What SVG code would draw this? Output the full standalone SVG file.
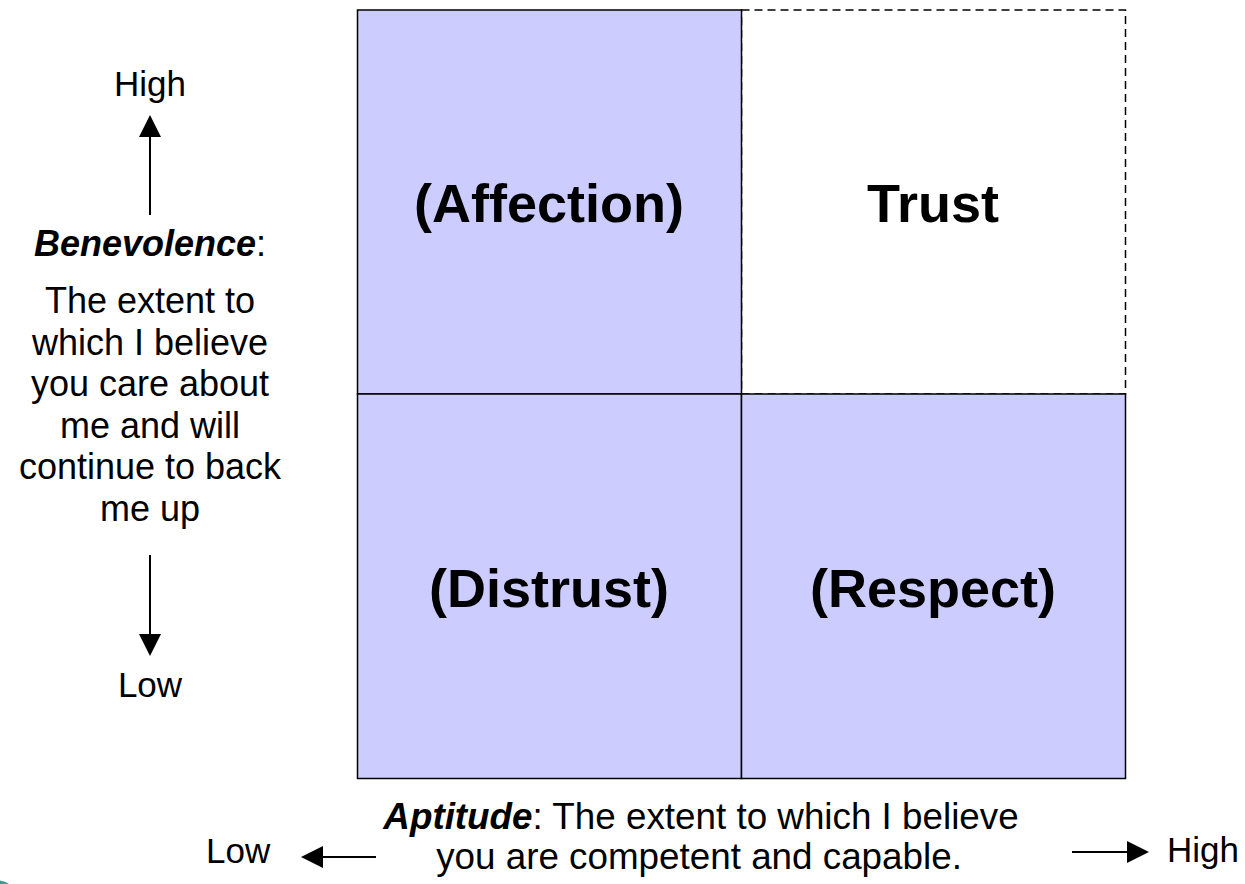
<svg xmlns="http://www.w3.org/2000/svg" width="1245" height="884" viewBox="0 0 1245 884">
  <defs>
    <style>
      .quad { fill: #CCCCFF; stroke: #000; stroke-width: 1.5; }
      .quad-open { fill: #FFFFFF; stroke: #000; stroke-width: 1.5; stroke-dasharray: 8 5; }
      .label { font-family: "Liberation Sans", Arial, sans-serif; font-weight: bold; font-size: 54px; fill: #000; text-anchor: middle; }
      .txt { font-family: "Liberation Sans", Arial, sans-serif; font-size: 36px; fill: #000; text-anchor: middle; }
      .txt-wide { font-size: 36.8px; }
      .axis { font-family: "Liberation Sans", Arial, sans-serif; font-size: 35px; fill: #000; }
      .em { font-weight: bold; font-style: italic; }
      .conn { stroke: #000; stroke-width: 2; fill: none; marker-end: url(#head); }
    </style>
    <marker id="head" markerUnits="userSpaceOnUse" markerWidth="22" markerHeight="22" viewBox="0 0 22 22" refX="0" refY="11" orient="auto">
      <path d="M0,0 L22,11 L0,22 Z" fill="#000"/>
    </marker>
  </defs>

  <!-- matrix quadrants -->
  <g id="trust">
    <rect class="quad-open" x="741.5" y="10" width="384" height="384"/>
    <text class="label" x="933" y="222">Trust</text>
  </g>
  <g id="affection">
    <rect class="quad" x="357.5" y="10" width="384" height="384"/>
    <text class="label" x="549" y="222">(Affection)</text>
  </g>
  <g id="distrust">
    <rect class="quad" x="357.5" y="394" width="384" height="384.5"/>
    <text class="label" x="549" y="607">(Distrust)</text>
  </g>
  <g id="respect">
    <rect class="quad" x="741.5" y="394" width="384" height="384.5"/>
    <text class="label" x="933" y="607">(Respect)</text>
  </g>

  <!-- vertical axis: benevolence -->
  <g id="benevolence-high">
    <text class="axis" x="150" y="96" text-anchor="middle">High</text>
  </g>
  <g id="benevolence-desc">
    <text class="txt" x="150" y="256"><tspan class="em">Benevolence</tspan>:</text>
    <text class="txt" x="150" y="313">The extent to</text>
    <text class="txt" x="150" y="354.5">which I believe</text>
    <text class="txt" x="150" y="396">you care about</text>
    <text class="txt" x="150" y="437.5">me and will</text>
    <text class="txt" x="150" y="479">continue to back</text>
    <text class="txt" x="150" y="520.5">me up</text>
  </g>
  <g id="benevolence-low">
    <text class="axis" x="150" y="697" text-anchor="middle">Low</text>
  </g>

  <!-- horizontal axis: aptitude -->
  <g id="aptitude-low">
    <text class="axis" x="206" y="863">Low</text>
  </g>
  <g id="aptitude-desc">
    <text class="txt txt-wide" x="701" y="829"><tspan class="em">Aptitude</tspan>: The extent to which I believe</text>
    <text class="txt txt-wide" x="699" y="869">you are competent and capable.</text>
  </g>
  <g id="aptitude-high">
    <text class="axis" x="1167" y="862">High</text>
  </g>

  <!-- axis arrows -->
  <g id="connectors">
    <line class="conn" x1="150" y1="215" x2="150" y2="137"/>
    <line class="conn" x1="150" y1="555" x2="150" y2="634"/>
    <line class="conn" x1="376" y1="857" x2="323" y2="857"/>
    <line class="conn" x1="1072" y1="852" x2="1127" y2="852"/>
  </g>

  <!-- corner ornament -->
  <path d="M0,880.5 Q5,881 9,884 L0,884 Z" fill="#3A9A98"/>
</svg>
